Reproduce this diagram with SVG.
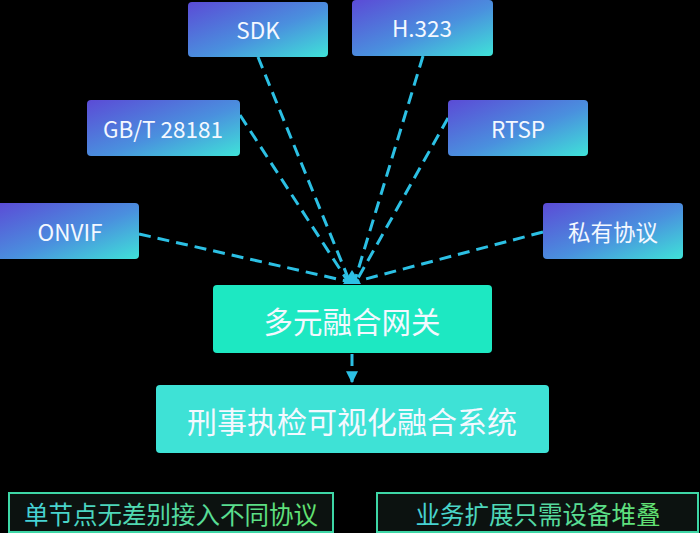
<svg xmlns="http://www.w3.org/2000/svg" width="700" height="533" viewBox="0 0 700 533">
<defs>
<linearGradient id="pg" x1="0" y1="0" x2="1" y2="1">
<stop offset="0" stop-color="#5b4bd6"/>
<stop offset="0.55" stop-color="#4a90de"/>
<stop offset="1" stop-color="#3fe3d8"/>
</linearGradient>
<linearGradient id="tg" x1="0" y1="0" x2="1" y2="0">
<stop offset="0" stop-color="#45d2d8"/>
<stop offset="1" stop-color="#62e36e"/>
</linearGradient>
<marker id="ah" viewBox="0 0 10 10" refX="9" refY="5" markerWidth="4" markerHeight="4" orient="auto">
<path d="M0,0 L10,5 L0,10 z" fill="#2cc0e4"/>
</marker>
<style>
.p{fill:url(#pg);}
.t{font-family:"Noto Sans CJK SC","Noto Sans",sans-serif;fill:#f4f8ff;text-anchor:middle;dominant-baseline:central;}
.s{font-size:22.5px;}
.c{stroke:#2cc0e4;stroke-width:3;stroke-dasharray:12,7;fill:none;}
.b{fill:#0c1210;stroke:#3ed6a6;stroke-width:2;}
.bt{font-family:"Noto Sans CJK SC","Noto Sans",sans-serif;font-size:24.5px;fill:url(#tg);text-anchor:middle;dominant-baseline:central;}
</style>
</defs>
<rect width="700" height="533" fill="#000000"/>
<g id="connectors">
<line class="c" x1="258" y1="57" x2="349" y2="280"/>
<line class="c" x1="423" y1="56" x2="355" y2="280"/>
<line class="c" x1="240" y1="115" x2="347" y2="280"/>
<line class="c" x1="448" y1="118" x2="357" y2="280"/>
<line class="c" x1="139" y1="234" x2="346" y2="281"/>
<line class="c" x1="543" y1="232" x2="358" y2="281"/>
<path d="M343,284 L352,270 L361,284 z" fill="#2cc0e4"/>
<line class="c" x1="352" y1="354" x2="352" y2="382" marker-end="url(#ah)"/>
</g>
<g id="sdk"><rect class="p" x="188" y="2" width="140" height="55" rx="4"/><text class="t s" x="258" y="29">SDK</text></g>
<g id="h323"><rect class="p" x="352" y="0" width="141" height="56" rx="4"/><text class="t s" x="422" y="27">H.323</text></g>
<g id="gbt"><rect class="p" x="87" y="100" width="153" height="56" rx="4"/><text class="t s" x="163" y="128">GB/T 28181</text></g>
<g id="rtsp"><rect class="p" x="448" y="100" width="140" height="56" rx="4"/><text class="t s" x="518" y="128">RTSP</text></g>
<g id="onvif"><rect class="p" x="-4" y="203" width="143" height="56" rx="4"/><text class="t s" x="70" y="231">ONVIF</text></g>
<g id="private"><rect class="p" x="543" y="203" width="140" height="56" rx="4"/><text class="t s" x="613" y="231">私有协议</text></g>
<g id="gateway"><rect x="213" y="285" width="279" height="68" rx="4" fill="#1de8c2"/><text class="t" x="352" y="320" font-size="29.5">多元融合网关</text></g>
<g id="system"><rect x="156" y="385" width="393" height="68" rx="4" fill="#3ee2d6"/><text class="t" x="352" y="420" font-size="30">刑事执检可视化融合系统</text></g>
<g id="note1"><rect class="b" x="9" y="493" width="324" height="39"/><text class="bt" x="171" y="513">单节点无差别接入不同协议</text></g>
<g id="note2"><rect class="b" x="377" y="493" width="321" height="39"/><text class="bt" x="538" y="513">业务扩展只需设备堆叠</text></g>
</svg>
